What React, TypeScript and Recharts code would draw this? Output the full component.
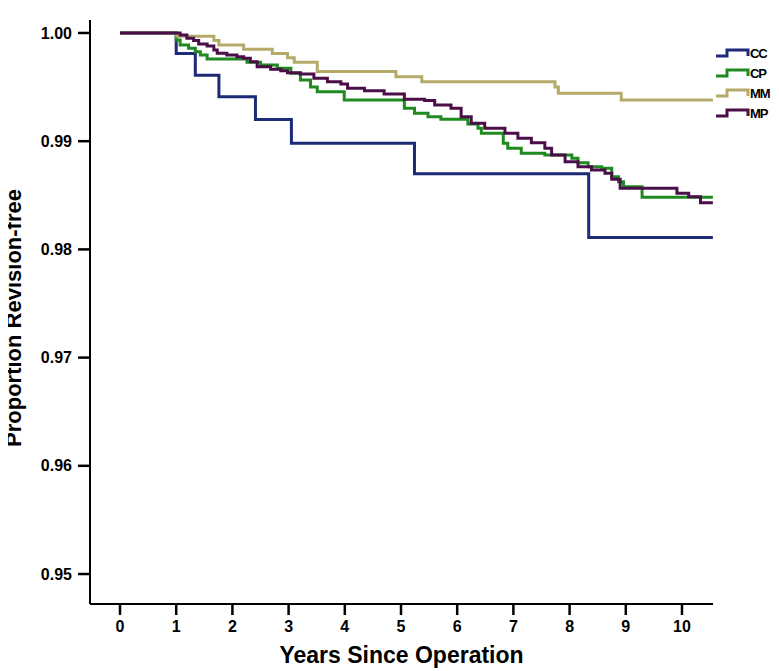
import React from "react";
import { LineChart, Line, XAxis, YAxis } from "recharts";

// Years since operation (t) and proportion revision-free (v)
const ccTimes = [0, 1.0, 1.34, 1.76, 2.41, 3.05, 5.24, 8.34, 10.55];
const ccValues = [1.0, 0.9981, 0.9961, 0.9941, 0.992, 0.9898, 0.987, 0.9811, 0.9811];

const cpTimes = [0, 1.0, 1.07, 1.22, 1.34, 1.43, 1.55, 2.26, 2.5, 2.8, 3.04, 3.21, 3.39, 3.51, 3.99, 5.06, 5.24, 5.48, 5.71, 6.19, 6.37, 6.43, 6.82, 6.9, 7.14, 7.56, 8.04, 8.15, 8.33, 8.57, 8.75, 8.87, 8.96, 9.29, 10.55];
const cpValues = [1.0, 0.99935, 0.99889, 0.99858, 0.99827, 0.99797, 0.9976, 0.99729, 0.99704, 0.99673, 0.99627, 0.99566, 0.995, 0.99458, 0.99381, 0.99304, 0.99258, 0.99227, 0.99202, 0.99159, 0.99119, 0.99073, 0.98981, 0.98934, 0.98888, 0.98872, 0.98842, 0.98801, 0.98764, 0.98749, 0.98672, 0.98626, 0.9858, 0.98481, 0.98481];

const mmTimes = [0, 1.01, 1.67, 1.76, 2.2, 2.71, 2.98, 3.1, 3.51, 4.91, 5.37, 7.74, 7.8, 8.92, 10.55];
const mmValues = [1.0, 0.9997, 0.9993, 0.9989, 0.9985, 0.9981, 0.9977, 0.9973, 0.99643, 0.99596, 0.9955, 0.995, 0.99443, 0.99381, 0.99381];

const mpTimes = [0, 1.07, 1.19, 1.31, 1.4, 1.55, 1.67, 1.73, 1.9, 2.08, 2.2, 2.32, 2.44, 2.68, 2.86, 2.98, 3.21, 3.45, 3.69, 3.93, 4.05, 4.35, 4.7, 5.06, 5.42, 5.6, 5.89, 6.07, 6.25, 6.49, 6.85, 7.08, 7.32, 7.56, 7.68, 7.92, 8.15, 8.39, 8.63, 8.75, 8.9, 9.91, 10.12, 10.33, 10.55];
const mpValues = [1.0, 0.99982, 0.99951, 0.9993, 0.99898, 0.9988, 0.99843, 0.99812, 0.99797, 0.99781, 0.99766, 0.99735, 0.99689, 0.99664, 0.99652, 0.99633, 0.99621, 0.99581, 0.9955, 0.99529, 0.99489, 0.99467, 0.99436, 0.99387, 0.99375, 0.99335, 0.99304, 0.99227, 0.99165, 0.99119, 0.99073, 0.99027, 0.98986, 0.98934, 0.98872, 0.98811, 0.98764, 0.98734, 0.98703, 0.98648, 0.98565, 0.98518, 0.98487, 0.98432, 0.98432];

const xTicks = [0, 1, 2, 3, 4, 5, 6, 7, 8, 9, 10];
const yTicks = [0.95, 0.96, 0.97, 0.98, 0.99, 1.0];

const seriesNames = ["CC", "CP", "MM", "MP"];
const seriesColors = ["#1c2a78", "#1f8a1f", "#b6aa6a", "#4a0f48"];

const zip = (ts: number[], vs: number[]) => ts.map((t, i) => ({ t, v: vs[i] }));
const seriesData = [zip(ccTimes, ccValues), zip(cpTimes, cpValues), zip(mmTimes, mmValues), zip(mpTimes, mpValues)];

const FONT = "'Liberation Sans', Arial, Helvetica, sans-serif";

const LegendBox = () => (
  <div style={{ position: "absolute", left: 716, top: 43, width: 63, fontFamily: FONT, whiteSpace: "nowrap" }}>
    {seriesNames.map((n, i) => (
      <div key={n} style={{ display: "flex", alignItems: "center", height: 20 }}>
        <svg width={34} height={12} style={{ display: "block", flexShrink: 0 }}>
          <path d="M0,9 H11 V3 H32 V9" fill="none" stroke={seriesColors[i]} strokeWidth={3} />
        </svg>
        <span style={{ fontSize: 13, fontWeight: "bold", color: "#000", letterSpacing: -1.2 }}>{n}</span>
      </div>
    ))}
  </div>
);

const XTitle = (props: any) => {
  const vb = props.viewBox;
  return (
    <text x={vb.x + vb.width / 2} y={vb.y + 59} textAnchor="middle" fontFamily={FONT} fontWeight="bold" fontSize={23} fill="#000">
      Years Since Operation
    </text>
  );
};

const YTitle = (props: any) => {
  const vb = props.viewBox;
  const cx = 21;
  const cy = vb.y + 298;
  return (
    <text x={cx} y={cy} transform={`rotate(-90 ${cx} ${cy})`} textAnchor="middle" fontFamily={FONT} fontWeight="bold" fontSize={22} fill="#000">
      Proportion Revision-free
    </text>
  );
};

export default function App() {
  return (
    <div style={{ position: "relative", width: 779, height: 671, marginLeft: -8, marginTop: -8 }}>
      <LineChart width={779} height={671} margin={{ top: 20, right: 66, bottom: 0, left: 0 }} style={{ overflow: "visible" }}>
        <XAxis
          type="number"
          dataKey="t"
          domain={[-0.534, 10.552]}
          ticks={xTicks}
          allowDataOverflow
          height={67}
          tickSize={11}
          tickMargin={6}
          axisLine={{ stroke: "#000", strokeWidth: 2 }}
          tickLine={{ stroke: "#000", strokeWidth: 2.5 }}
          tick={{ fill: "#000", fontSize: 16, fontWeight: "bold", fontFamily: FONT }}
          label={<XTitle />}
        />
        <YAxis
          type="number"
          dataKey="v"
          domain={[0.94723, 1.0012]}
          ticks={yTicks}
          allowDataOverflow
          width={90}
          tickSize={12}
          tickMargin={6}
          tickFormatter={(v: number) => v.toFixed(2)}
          axisLine={{ stroke: "#000", strokeWidth: 2 }}
          tickLine={{ stroke: "#000", strokeWidth: 2.5 }}
          tick={{ fill: "#000", fontSize: 16, fontWeight: "bold", fontFamily: FONT }}
          label={<YTitle />}
        />
        {seriesNames.map((n, i) => (
          <Line
            key={n}
            name={n}
            data={seriesData[i]}
            dataKey="v"
            type="stepAfter"
            stroke={seriesColors[i]}
            strokeWidth={3}
            dot={false}
            activeDot={false}
            isAnimationActive={false}
          />
        ))}
      </LineChart>
      <LegendBox />
    </div>
  );
}
